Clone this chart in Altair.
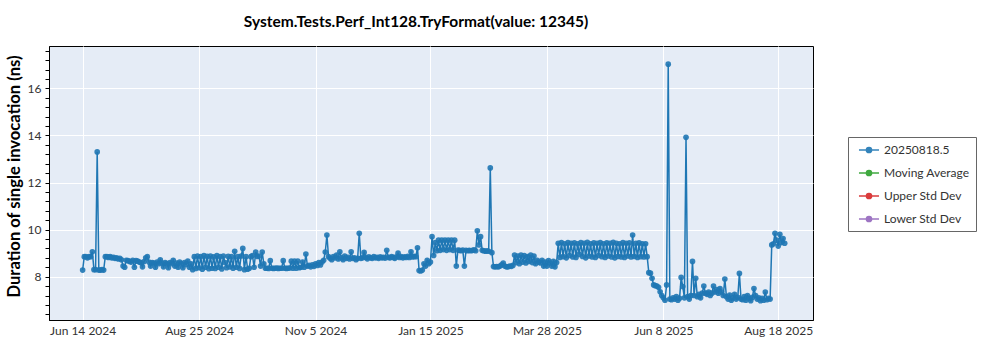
import altair as alt
import pandas as pd

TITLE = "System.Tests.Perf_Int128.TryFormat(value: 12345)"
Y_TITLE = "Duration of single invocation (ns)"
START_DATE = "2024-06-14"  # first daily measurement

series_names = ["20250818.5", "Moving Average", "Upper Std Dev", "Lower Std Dev"]
series_colors = ["#1f77b4", "#2ca02c", "#d62728", "#9467bd"]

x_tick_dates = [(2024, 6, 14), (2024, 8, 25), (2024, 11, 5), (2025, 1, 15),
                (2025, 3, 28), (2025, 6, 8), (2025, 8, 18)]
y_ticks = [6.4, 6.8, 7.2, 7.6, 8, 8.4, 8.8, 9.2, 9.6, 10, 10.4, 10.8, 11.2, 11.6, 12,
           12.4, 12.8, 13.2, 13.6, 14, 14.4, 14.8, 15.2, 15.6, 16, 16.4, 16.8, 17.2, 17.6]

# daily values (ns), one per day starting at START_DATE
vals_a = [8.28, 8.85, 8.85, 8.80, 8.85, 8.85, 9.06, 8.30, 8.30, 13.30,
          8.28, 8.28, 8.30, 8.28, 8.85, 8.85, 8.82, 8.85, 8.80, 8.82,
          8.78, 8.80, 8.75, 8.78, 8.72, 8.45, 8.40, 8.70, 8.68, 8.65,
          8.62, 8.70, 8.40, 8.68, 8.66, 8.62, 8.60, 8.42, 8.64, 8.80,
          8.85, 8.62, 8.45, 8.60, 8.58, 8.40, 8.62, 8.55, 8.72, 8.58,
          8.42, 8.60, 8.56, 8.38, 8.60, 8.55, 8.70, 8.45, 8.58, 8.40,
          8.62, 8.55, 8.38, 8.60, 8.52, 8.66, 8.40, 8.55, 8.30]
vals_b = [8.85, 8.35, 8.88, 8.38, 8.85, 8.32, 8.90, 8.40, 8.86, 8.34,
          8.88, 8.36, 8.84, 8.35, 8.90, 8.40, 8.85, 8.33, 8.88, 8.60,
          8.38, 8.86, 8.42, 8.85, 8.36, 9.08, 8.40, 8.85, 8.35, 8.88,
          9.20, 8.30, 8.85, 8.32, 8.36, 8.85, 8.90, 8.40, 9.05, 8.86,
          8.88, 8.45, 9.05]
vals_c = [8.55, 8.36, 8.36, 8.35, 8.68, 8.36, 8.35, 8.36, 8.37, 8.35,
          8.36, 8.36, 8.68, 8.36, 8.35, 8.36, 8.37, 8.66, 8.36, 8.66,
          8.36, 8.66, 8.38, 8.40, 8.62, 8.40, 8.96, 8.45, 8.48, 8.42,
          8.50, 8.44, 8.55, 8.48, 8.60, 8.50, 8.62, 8.70]
vals_d = [9.05, 9.77, 8.85, 8.78, 8.72, 8.85, 8.80, 8.92, 8.75, 9.06,
          8.80, 8.72, 8.88, 8.78, 8.82, 8.75, 9.06, 8.78, 8.80, 8.72,
          8.78, 9.84, 8.78, 8.80, 9.03, 8.82, 8.76, 8.84, 8.80, 8.78,
          8.85, 8.80, 8.82, 8.78, 8.84, 8.80, 8.82, 8.79, 9.12, 8.82,
          8.80, 8.85, 8.82, 8.78, 8.84, 9.00, 8.82, 8.85, 8.80, 8.84,
          8.82, 8.86, 8.82, 9.06, 8.84, 8.86, 8.85]
vals_e = [9.23, 8.26, 8.24, 8.28, 8.55, 8.45, 8.70, 8.55, 8.62, 9.70,
          8.90, 9.45, 9.10, 9.55, 9.12, 9.55, 9.15, 9.55, 9.12, 9.55,
          9.15, 9.56, 9.12, 9.55, 8.45, 9.13, 9.12, 9.10, 9.13, 8.45,
          9.12, 9.10, 9.12, 9.10, 9.12, 9.14, 9.10, 9.95, 9.35, 9.70,
          9.12, 9.10, 9.08, 9.10, 9.08, 12.62, 9.02, 8.43]
vals_f = [8.42, 8.43, 8.42, 8.45, 8.50, 8.58, 8.45, 8.42, 8.42, 8.45,
          8.44, 8.48, 8.92, 8.60, 8.88, 8.55, 8.92, 8.62, 8.90, 8.58,
          8.85, 8.65, 8.92, 8.60, 8.88, 8.55, 8.70, 8.62, 8.58, 8.70,
          8.45, 8.62, 8.45, 8.68, 8.58, 8.45, 8.65, 8.42, 8.60]
vals_g = [9.42, 8.82, 9.45, 8.85, 9.40, 8.80, 9.45, 8.90, 9.42, 8.84,
          9.44, 8.82, 9.40, 8.95, 9.45, 8.86, 9.42, 8.80, 9.46, 8.88,
          9.40, 8.84, 9.44, 8.82, 9.42, 8.90, 9.45, 8.85, 9.40, 8.82,
          9.44, 8.88, 9.42, 8.84, 9.46, 8.80, 9.42, 8.86, 9.40, 8.84,
          9.45, 8.82, 9.42, 8.88, 9.44, 8.84, 9.77, 8.86, 9.42, 8.82,
          9.44, 8.85, 9.40, 8.84, 9.40]
vals_h = [8.85, 8.17, 8.15, 7.93, 7.65, 7.62, 7.60, 7.55, 7.36, 7.20,
          7.10, 7.00, 7.65, 17.03, 7.05, 7.02, 7.10, 7.05, 7.15, 7.00,
          7.08, 7.97, 7.58, 7.10, 13.92, 7.15, 7.05, 7.20, 8.65, 7.20,
          7.93, 7.15, 7.25, 7.10, 7.30, 7.60, 7.30, 7.25, 7.35, 7.20,
          7.30, 7.60, 7.35, 7.45, 7.30, 7.50, 7.35, 7.20, 7.90, 7.15,
          7.05, 7.22, 7.00, 7.10, 7.25, 7.05, 7.12, 8.14, 7.05, 7.02,
          7.15, 7.00, 7.20, 7.08, 6.98, 7.12, 7.50, 7.20, 7.05, 7.10,
          6.98, 7.08, 7.00, 7.35, 7.02, 7.08, 7.05]
vals_i = [9.35, 9.40, 9.84, 9.55, 9.30, 9.80, 9.45, 9.62, 9.42]

values = vals_a + vals_b + vals_c + vals_d + vals_e + vals_f + vals_g + vals_h + vals_i
dates = pd.date_range(START_DATE, periods=len(values), freq="D").strftime("%Y-%m-%d")
df = pd.DataFrame({"date": dates, "value": values, "series": series_names[0]})

FONT = "Lato"

x_enc = alt.X(
    "date:T",
    scale=alt.Scale(type="utc",
                    domain=[alt.DateTime(year=2024, month=5, date=24, hours=5, utc=True),
                            alt.DateTime(year=2025, month=9, date=8, hours=12, utc=True)]),
    axis=alt.Axis(
        values=[alt.DateTime(year=y, month=m, date=d, utc=True) for (y, m, d) in x_tick_dates],
        labelExpr="utcFormat(datum.value, '%b %-d %Y')",
        title=None, ticks=False, labelPadding=5, labelFontSize=12, labelFont=FONT,
        labelColor="#333", gridColor="white", gridWidth=1, domainColor="black",
        labelFlush=False,
    ),
)
y_enc = alt.Y(
    "value:Q",
    scale=alt.Scale(domain=[6.16, 17.8], nice=False, zero=False),
    axis=alt.Axis(
        values=y_ticks,
        labelExpr="datum.value % 2 === 0 ? format(datum.value, 'd') : ''",
        gridOpacity={"condition": {"test": "datum.value % 2 === 0", "value": 1}, "value": 0},
        gridColor="white", gridWidth=1,
        tickSize=4, tickColor="black", domainColor="black",
        labelFontSize=12, labelFont=FONT, labelColor="#333", labelPadding=4,
        title=Y_TITLE, titleFontSize=16.6, titleFont=FONT, titleFontWeight="bold",
        titleColor="black", titlePadding=5, titleY=130,
    ),
)

legend = alt.Legend(
    title=None, orient="none", legendX=799, legendY=91,
    symbolType="M-1.67,0H1.67M-0.45,0A0.45,0.45 0 1,0 0.45,0A0.45,0.45 0 1,0 -0.45,0",
    symbolSize=144, symbolStrokeWidth=1.3, symbolOffset=8,
    labelFontSize=12, labelFont=FONT, labelColor="#333", labelOffset=8,
    rowPadding=10, padding=6, fillColor="white", strokeColor="#666",
)
color_scale = alt.Scale(domain=series_names, range=series_colors)

line = alt.Chart(df).mark_line(strokeWidth=1.5).encode(
    x=x_enc, y=y_enc,
    stroke=alt.Stroke("series:N", scale=color_scale, legend=legend),
)
pts = alt.Chart(df).mark_circle(size=32, opacity=0.9).encode(
    x=x_enc, y=y_enc,
    fill=alt.Fill("series:N", scale=color_scale, legend=legend),
)

chart = alt.layer(line, pts).properties(
    width=764, height=274,
    autosize=alt.AutoSizeParams(type="none"),
    padding={"left": 49, "top": 46, "right": 187, "bottom": 30},
    background="white",
    title=alt.TitleParams(TITLE, fontSize=15.5, font=FONT, fontWeight="bold", color="black",
                          anchor="middle", offset=16, dx=-15),
).configure_view(fill="#E5ECF6", stroke="black", strokeWidth=1)

chart.save("out.html", embed_options={"renderer": "svg", "actions": False})
